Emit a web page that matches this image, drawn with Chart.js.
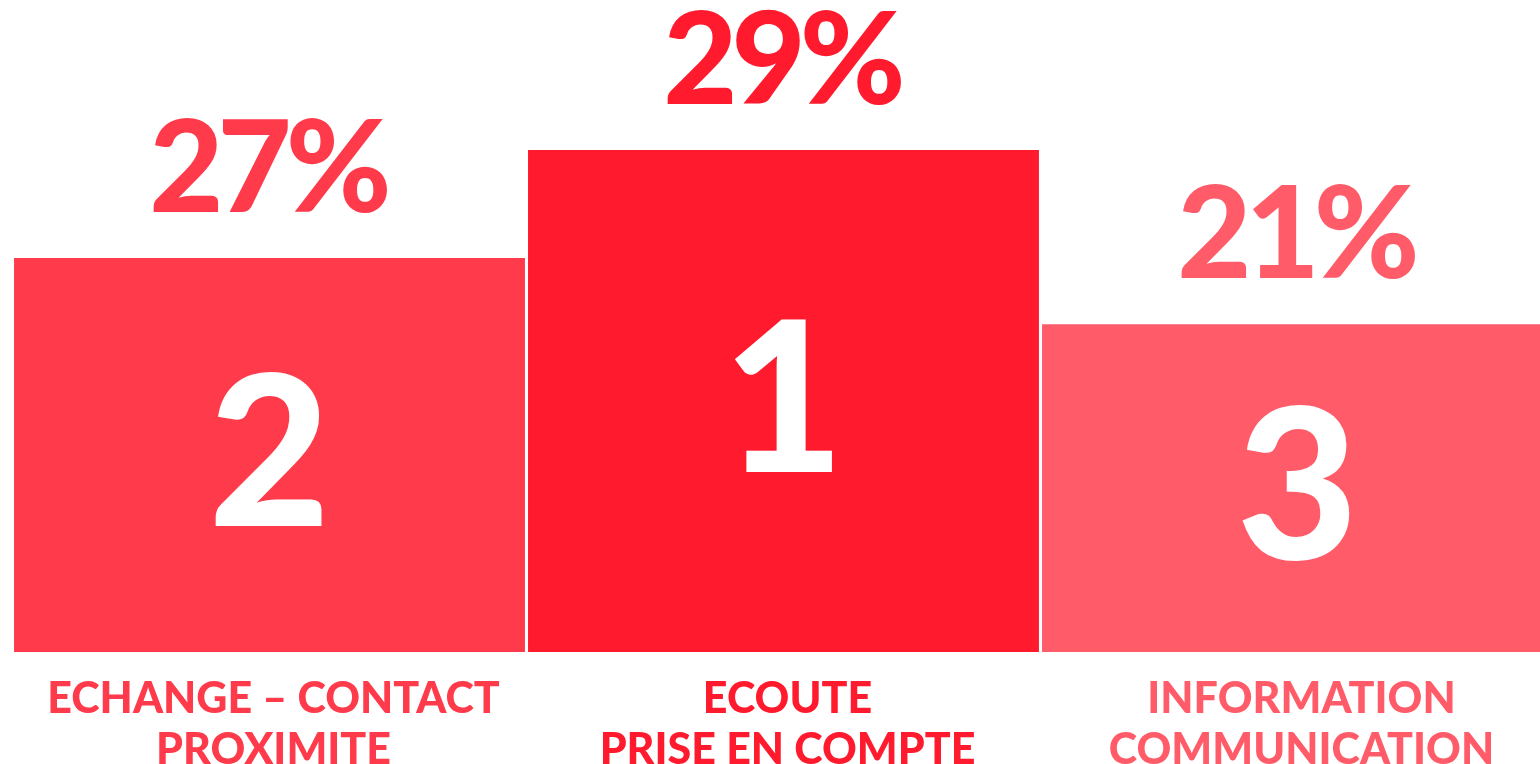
<!DOCTYPE html>
<html>
<head>
<meta charset="utf-8">
<script src="https://cdn.jsdelivr.net/npm/chart.js@4/dist/chart.umd.min.js"></script>
<style>
  html, body { margin: 0; padding: 0; background: #ffffff; overflow: hidden; }
  #wrap { position: absolute; left: 0; top: 0; width: 1560px; height: 764px; }
</style>
</head>
<body>
<div id="wrap"><canvas id="podiumChart"></canvas></div>
<script>
// podium: categories in display order (2nd, 1st, 3rd)
const categories = [
    ['ECHANGE – CONTACT', 'PROXIMITE'],
    ['ECOUTE', 'PRISE EN COMPTE'],
    ['INFORMATION', 'COMMUNICATION']
];
const percentages = [27, 29, 21];
// podium step heights, relative to the tallest step
const podiumHeights = [78.5, 100, 65.3];
const barColors = ['#FF3B4B', '#FF1A2D', '#FF5B69'];

// rank of each category from its percentage
const ranks = percentages.map(v => percentages.filter(o => o > v).length + 1);

const FONT = 'Lato, "Noto Sans", sans-serif';

const podiumLabels = {
    id: 'podiumLabels',
    afterDatasetsDraw(chart) {
        const ctx = chart.ctx;
        const meta = chart.getDatasetMeta(0);
        const xScale = chart.scales.x;
        ctx.save();
        ctx.textAlign = 'center';
        ctx.textBaseline = 'alphabetic';
        meta.data.forEach((bar, i) => {
            const cx = xScale.getPixelForValue(i);
            // percentage above the step
            ctx.fillStyle = barColors[i];
            ctx.font = '900 128px ' + FONT;
            ctx.letterSpacing = '-6px';
            ctx.fillText(percentages[i] + '%', cx - 2, bar.y - 46);
            // rank inside the step
            ctx.fillStyle = '#ffffff';
            ctx.font = '900 210px ' + FONT;
            ctx.letterSpacing = '0px';
            ctx.fillText(String(ranks[i]), cx, (bar.y + bar.base) / 2 + 71);
            // category name under the step
            ctx.fillStyle = barColors[i];
            ctx.font = '900 43px ' + FONT;
            ctx.letterSpacing = '0px';
            categories[i].forEach((line, j) => {
                ctx.fillText(line, cx + 4, bar.base + 61 + j * 51);
            });
        });
        ctx.restore();
    }
};

const chartCtx = document.getElementById('podiumChart').getContext('2d');
new Chart(chartCtx, {
    type: 'bar',
    data: {
        labels: categories,
        datasets: [{
            data: podiumHeights,
            backgroundColor: barColors,
            borderWidth: 0,
            barPercentage: 0.994,
            categoryPercentage: 1
        }]
    },
    options: {
        responsive: true,
        maintainAspectRatio: false,
        animation: false,
        layout: {
            padding: { left: 12.5, right: 5.5, top: 150, bottom: 112 }
        },
        plugins: {
            legend: { display: false },
            tooltip: { enabled: false },
            title: { display: false }
        },
        scales: {
            x: { display: false, offset: true },
            y: { display: false, min: 0, max: 100 }
        }
    },
    plugins: [podiumLabels]
});
</script>
</body>
</html>
